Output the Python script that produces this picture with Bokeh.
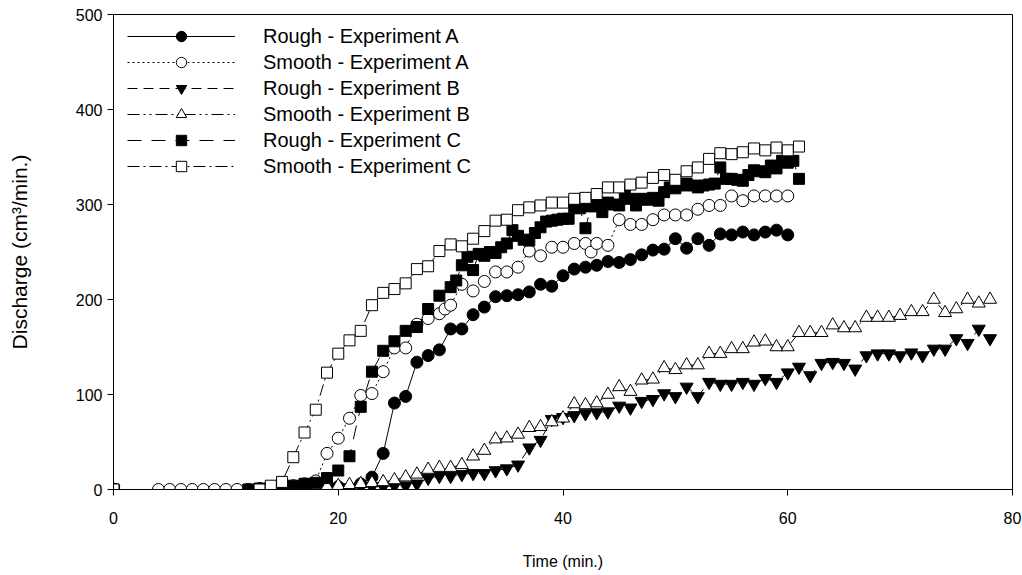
from bokeh.plotting import figure
from bokeh.models import Legend, LegendItem, Range1d, FixedTicker
from bokeh.embed import file_html
from bokeh.resources import INLINE

# ---------------- data ----------------
rough_a_t = [0, 12, 13, 14, 15, 16, 17, 18, 19, 20, 21, 22, 23, 24, 25, 26, 27, 28, 29, 30,
             31, 32, 33, 34, 35, 36, 37, 38, 39, 40, 41, 42, 43, 44, 45, 46, 47, 48, 49, 50,
             51, 52, 53, 54, 55, 56, 57, 58, 59, 60]
rough_a_y = [0, 0, 1, 2, 3, 3, 4, 5, 6, 3, -2, 6, 13, 38, 91, 98, 134, 141, 147, 169,
             169, 184, 192, 203, 204, 205, 208, 216, 214, 225, 232, 234, 236, 240, 239, 242, 247, 252, 253, 264,
             254, 264, 257, 269, 268, 271, 268, 271, 273, 268]

smooth_a_t = [0, 4, 5, 6, 7, 8, 9, 10, 11, 12, 13, 14, 15, 16, 17, 18, 19, 20, 21, 22, 23, 24, 25, 26,
              27, 28, 29, 29.5, 30, 31, 32, 33, 34, 35, 36, 37, 38, 39, 40, 41, 42, 42.5, 43, 44,
              45, 46, 47, 48, 49, 50, 51, 52, 53, 54, 55, 56, 57, 58, 59, 60]
smooth_a_y = [0, 0, 0, 0, 0, 0, 0, 0, 0, 0, 0, 1, 2, 4, 6, 9, 38, 54, 75, 99, 101, 124, 149, 149,
              174, 180, 185, 190, 194, 216, 209, 219, 229, 229, 234, 251, 246, 255, 255, 259, 259, 250, 259, 257,
              284, 279, 279, 284, 289, 289, 289, 295, 299, 299, 309, 304, 309, 309, 309, 309]

rough_b_t = [0, 13, 14, 15, 16, 17, 18, 19, 20, 21, 22, 23, 24, 25, 26, 27, 28, 29, 30, 31, 32, 33,
             34, 35, 36, 37, 38, 39, 40, 41, 42, 43, 44, 45, 46, 47, 48, 49, 50, 51, 52, 53, 54, 55,
             56, 57, 58, 59, 60, 61, 62, 63, 64, 65, 66, 67, 68, 69, 70, 71, 72, 73, 74, 75, 76, 77, 78]
rough_b_y = [0, 0, -3, 0, 1, 1, 1, 2, 2, 2, 3, 3, 3, 4, 4, 6, 12, 14, 14, 16, 17, 17,
             20, 22, 26, 44, 52, 74, 76, 78, 80, 81, 82, 88, 86, 93, 95, 101, 98, 108, 98, 113, 111, 111,
             113, 111, 117, 113, 123, 129, 120, 133, 134, 133, 127, 141, 143, 143, 141, 144, 141, 148, 148, 159, 154, 169, 159]

smooth_b_t = [0, 14, 15, 16, 17, 18, 19, 20, 21, 22, 23, 24, 25, 26, 27, 28, 29, 30, 31, 32, 33, 34,
              35, 36, 37, 38, 39, 40, 41, 42, 43, 44, 45, 46, 47, 48, 49, 50, 51, 52, 53, 54, 55, 56,
              57, 58, 59, 60, 61, 62, 63, 64, 65, 66, 67, 68, 69, 70, 71, 72, 73, 74, 75, 76, 77, 78]
smooth_b_y = [0, 0, 0, 1, 1, 2, 3, 4, 5, 6, 7, 8, 10, 13, 16, 21, 23, 23, 26, 35, 41, 53,
              54, 58, 65, 66, 71, 75, 90, 89, 91, 100, 108, 103, 115, 116, 128, 126, 131, 131, 143, 143, 148, 148,
              155, 156, 150, 150, 165, 165, 165, 173, 170, 170, 181, 181, 181, 183, 187, 187, 200, 186, 190, 200, 196, 200]

rough_c_t = [0, 12, 13, 14, 15, 16, 17, 18, 19, 20, 21, 22, 23, 24, 25, 26, 27, 28, 29, 30,
             30.5, 31, 31.5, 32, 32.5, 33, 33.5, 34, 34.5, 35, 35.5, 36, 36.5, 37, 37.5, 38, 38.5, 39,
             39.5, 40, 40.5, 41, 41.5, 42, 42.5, 43, 43.5, 44, 44.5, 45, 45.5, 46, 46.5, 47, 47.5, 48,
             48.5, 49, 49.5, 50, 50.5, 51, 51.5, 52, 52.5, 53, 53.5, 54, 54.5, 55, 55.5, 56, 56.5, 57,
             57.5, 58, 58.5, 59, 59.5, 60, 60.5, 61]
rough_c_y = [0, 0, 1, 2, 3, 4, 6, 7, 12, 20, 35, 87, 124, 146, 156, 167, 171, 190, 204, 213,
             220, 236, 245, 231, 248, 246, 250, 249, 255, 259, 273, 267, 263, 262, 270, 276, 282, 283,
             284, 285, 285, 297, 296, 275, 298, 301, 292, 302, 300, 299, 310, 306, 299, 306, 305, 307,
             304, 313, 318, 317, 320, 322, 320, 318, 320, 321, 322, 339, 327, 327, 326, 325, 331, 336,
             335, 334, 341, 338, 346, 344, 346, 327]

smooth_c_t = [0, 13, 14, 15, 16, 17, 18, 19, 20, 21, 22, 23, 24, 25, 26, 27, 28, 29, 30, 31, 32,
              33, 34, 35, 36, 37, 38, 39, 40, 41, 42, 43, 44, 45, 46, 47, 48, 49, 50, 51, 52, 53,
              54, 55, 56, 57, 58, 59, 60, 61]
smooth_c_y = [0, 0, 4, 8, 34, 60, 84, 123, 143, 157, 167, 194, 207, 211, 217, 232, 235, 251, 258, 256, 264,
              272, 283, 284, 294, 297, 299, 302, 302, 306, 307, 311, 318, 318, 321, 323, 328, 331, 326, 335, 339, 348,
              354, 353, 355, 359, 357, 360, 357, 361]

labels = ["Rough - Experiment A", "Smooth - Experiment A", "Rough - Experiment B",
          "Smooth - Experiment B", "Rough - Experiment C", "Smooth - Experiment C"]
x_ticks = [0, 20, 40, 60, 80]
y_ticks = [0, 100, 200, 300, 400, 500]

# ---------------- figure ----------------
FONT = "Liberation Sans"
p = figure(width=1022, height=575, x_range=Range1d(0, 80), y_range=Range1d(0, 500),
           output_backend="svg", toolbar_location=None,
           min_border_left=113, min_border_right=10, min_border_top=14, min_border_bottom=86)
p.grid.visible = False
p.outline_line_color = "black"
p.outline_line_width = 1
p.background_fill_color = "white"
p.border_fill_color = "white"

for ax in (p.xaxis[0], p.yaxis[0]):
    ax.axis_line_color = "black"
    ax.major_tick_line_color = "black"
    ax.major_tick_out = 6
    ax.major_tick_in = 0
    ax.minor_tick_line_color = None
    ax.major_label_text_font = FONT
    ax.major_label_text_font_size = "16px"
    ax.major_label_text_color = "black"
    ax.axis_label_text_font = FONT
    ax.axis_label_text_font_style = "normal"
    ax.axis_label_text_color = "black"

p.xaxis.ticker = FixedTicker(ticks=x_ticks)
p.yaxis.ticker = FixedTicker(ticks=y_ticks)
p.xaxis.major_label_standoff = 16
p.yaxis.major_label_standoff = 5
p.xaxis.axis_label = "Time (min.)"
p.yaxis.axis_label = "Discharge (cm\u00b3/min.)"
p.xaxis.axis_label_text_font_size = "16px"
p.yaxis.axis_label_text_font_size = "21px"
p.xaxis.axis_label_standoff = 26
p.yaxis.axis_label_standoff = 42

series = [
    (rough_a_t, rough_a_y, "solid", "circle", "black", 12),
    (smooth_a_t, smooth_a_y, "2 3", "circle", "white", 12),
    (rough_b_t, rough_b_y, "10 6", "inverted_triangle", "black", 13),
    (smooth_b_t, smooth_b_y, "12 4 2 4 2 4", "triangle", "white", 13),
    (rough_c_t, rough_c_y, "14 10", "square", "black", 11),
    (smooth_c_t, smooth_c_y, "12 4 2 4", "square", "white", 11),
]

line_rs = []
for t, y, dash, m, fill, sz in series:
    line_rs.append(p.line(t, y, line_color="black", line_width=1, line_dash=dash))
mark_rs = []
for t, y, dash, m, fill, sz in series:
    mark_rs.append(p.scatter(t, y, marker=m, size=sz, fill_color=fill, line_color="black", line_width=1))

items = [LegendItem(label=lab, renderers=[lr, mr]) for lab, lr, mr in zip(labels, line_rs, mark_rs)]
legend = Legend(items=items, location=(14, 310), orientation="vertical",
                glyph_width=108, glyph_height=26, label_height=26, spacing=0,
                label_standoff=28, padding=0, margin=0,
                label_text_font=FONT, label_text_font_size="20px", label_text_color="black",
                border_line_color=None, background_fill_alpha=0)
p.add_layout(legend, "center")

open("out.html", "w").write(file_html(p, INLINE))
